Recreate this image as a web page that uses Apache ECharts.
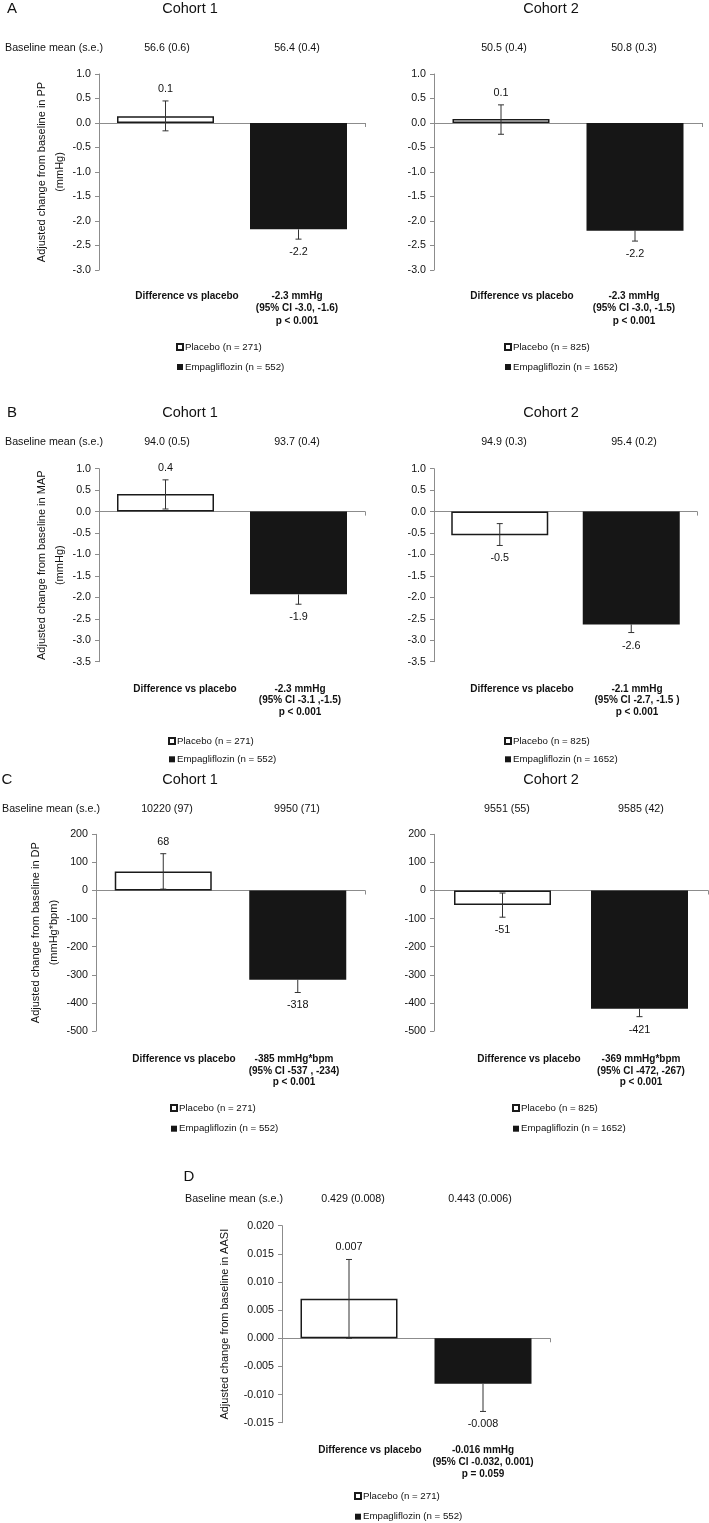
<!DOCTYPE html>
<html><head><meta charset="utf-8">
<script src="https://cdn.jsdelivr.net/npm/echarts@6/dist/echarts.min.js"></script>
<style>html,body{margin:0;padding:0;background:#fff}#c{width:709px;height:1523px}</style>
</head><body><div id="c"></div>
<script>
// ---------------- DATA ----------------
const categories = ['Placebo', 'Empagliflozin'];
const panelIds = ['A1', 'A2', 'B1', 'B2', 'C1', 'C2', 'D'];
const placeboValues = [0.14, 0.08, 0.41, -0.55, 68, -52, 0.007];
const empaValues = [-2.17, -2.20, -1.93, -2.63, -318, -421, -0.0081];
const placeboErrLow = [-0.16, -0.23, 0.06, -0.79, 5, -95, 0.000];
const placeboErrHigh = [0.45, 0.37, 0.74, -0.28, 131, -9, 0.014];
const empaErrLow = [-2.37, -2.41, -2.16, -2.82, -363, -449, -0.013];
const empaErrHigh = [-1.97, -1.99, -1.70, -2.44, -273, -393, -0.0032];
const placeboLabels = ['0.1', '0.1', '0.4', '-0.5', '68', '-51', '0.007'];
const empaLabels = ['-2.2', '-2.2', '-1.9', '-2.6', '-318', '-421', '-0.008'];
const baselinePlacebo = ['56.6 (0.6)', '50.5 (0.4)', '94.0 (0.5)', '94.9 (0.3)', '10220 (97)', '9551 (55)', '0.429 (0.008)'];
const baselineEmpa = ['56.4 (0.4)', '50.8 (0.3)', '93.7 (0.4)', '95.4 (0.2)', '9950 (71)', '9585 (42)', '0.443 (0.006)'];
const diffValue = ['-2.3 mmHg', '-2.3 mmHg', '-2.3 mmHg', '-2.1 mmHg', '-385 mmHg*bpm', '-369 mmHg*bpm', '-0.016 mmHg'];
const diffCI = ['(95% CI -3.0, -1.6)', '(95% CI -3.0, -1.5)', '(95% CI -3.1 ,-1.5)', '(95% CI -2.7, -1.5 )', '(95% CI -537 , -234)', '(95% CI -472, -267)', '(95% CI -0.032, 0.001)'];
const diffP = ['p < 0.001', 'p < 0.001', 'p < 0.001', 'p < 0.001', 'p < 0.001', 'p < 0.001', 'p = 0.059'];
const placeboN = ['Placebo (n = 271)', 'Placebo (n = 825)', 'Placebo (n = 271)', 'Placebo (n = 825)', 'Placebo (n = 271)', 'Placebo (n = 825)', 'Placebo (n = 271)'];
const empaN = ['Empagliflozin (n = 552)', 'Empagliflozin (n = 1652)', 'Empagliflozin (n = 552)', 'Empagliflozin (n = 1652)', 'Empagliflozin (n = 552)', 'Empagliflozin (n = 1652)', 'Empagliflozin (n = 552)'];
const yMin = [-3, -3, -3.5, -3.5, -500, -500, -0.015];
const yMax = [1, 1, 1, 1, 200, 200, 0.02];
const yInterval = [0.5, 0.5, 0.5, 0.5, 100, 100, 0.005];
const yDecimals = [1, 1, 1, 1, 0, 0, 3];
const yTitles = ['Adjusted change from baseline in PP\n(mmHg)', '', 'Adjusted change from baseline in MAP\n(mmHg)', '', 'Adjusted change from baseline in DP\n(mmHg*bpm)', '', 'Adjusted change from baseline in AASI'];
const cohortTitles = ['Cohort 1', 'Cohort 2', 'Cohort 1', 'Cohort 2', 'Cohort 1', 'Cohort 2', ''];
const panelLetters = ['A', 'B', 'C', 'D'];
const baselineTitle = 'Baseline mean (s.e.)';
const diffTitle = 'Difference vs placebo';

// ---------------- LAYOUT ----------------
const FONT = '"Liberation Sans", Arial, sans-serif';
const TXT = '#111111';
const AXIS = '#8c8c8c';
const grids = [
  { left: 99, top: 74, width: 266, height: 196, nameGap: 28 },
  { left: 434, top: 74, width: 268, height: 196, nameGap: 28 },
  { left: 99, top: 468.7, width: 266, height: 193, nameGap: 28 },
  { left: 434, top: 468.7, width: 263, height: 193, nameGap: 28 },
  { left: 96, top: 834.3, width: 269, height: 196.7, nameGap: 25 },
  { left: 434, top: 834.3, width: 274, height: 196.7, nameGap: 25 },
  { left: 282, top: 1225.7, width: 268, height: 197, nameGap: 48 }
];
const letterPos = [[12, 9], [12, 413], [7, 780], [189, 1177]];
const cohortPos = [[190, 9], [551, 9], [190, 413], [551, 413], [190, 780], [551, 780], null];
const baselineTitlePos = [[5, 48], [5, 442], [2, 809], [185, 1199]];
const baselineY = [48, 48, 442, 442, 809, 809, 1199];
const baselineX = [[167, 297], [504, 634], [167, 297], [504, 634], [167, 297], [507, 641], [353, 480]];
const diffY = [296, 296, 689, 689, 1059, 1059, 1450];
const diffLH = [12.5, 12.5, 11.5, 11.5, 11.8, 11.8, 12];
const diffX = [[187, 297], [522, 634], [185, 300], [522, 637], [184, 294], [529, 641], [370, 483]];
const legendPos = [[178, 347, 20], [506, 347, 20], [170, 741, 18.3], [506, 741, 18.3], [172, 1108, 20.7], [514, 1108, 20.7], [356, 1496, 20.7]];

const chart = echarts.init(document.getElementById('c'), null, { renderer: 'canvas' });

function fmt(dec) {
  return function (v) { if (Math.abs(v) < 1e-12) v = 0; return v.toFixed(dec); };
}

const series = [];
panelIds.forEach(function (id, i) {
  series.push({
    type: 'bar', name: placeboN[i], xAxisIndex: i, yAxisIndex: i,
    data: [placeboValues[i], '-'], barWidth: 97, barGap: '-100%',
    itemStyle: { color: '#ffffff', borderColor: '#1a1a1a', borderWidth: 1.5 },
    silent: true, z: 2
  });
  series.push({
    type: 'bar', name: empaN[i], xAxisIndex: i, yAxisIndex: i,
    data: ['-', empaValues[i]], barWidth: 97, barGap: '-100%',
    itemStyle: { color: '#161616', borderColor: '#161616', borderWidth: 0 },
    silent: true, z: 2
  });
  const labels = [placeboLabels[i], empaLabels[i]];
  series.push({
    type: 'custom', name: 'err' + id, xAxisIndex: i, yAxisIndex: i, clip: false, z: 5, silent: true,
    encode: { x: 0, y: 1 },
    data: [[0, placeboValues[i], placeboErrLow[i], placeboErrHigh[i]], [1, empaValues[i], empaErrLow[i], empaErrHigh[i]]],
    renderItem: function (params, api) {
      const idx = params.dataIndex;
      const x = api.value(0), mean = api.value(1), lo = api.value(2), hi = api.value(3);
      const pM = api.coord([x, mean]), pL = api.coord([x, lo]), pH = api.coord([x, hi]);
      const cx = pM[0];
      let yTop = pH[1], yBot = pL[1], capTop = true, capBot = true;
      if (idx === 1) {
        if (mean < 0) { yTop = pM[1]; capTop = false; } else { yBot = pM[1]; capBot = false; }
      }
      const ls = { stroke: '#333', lineWidth: 1 };
      const ch = [{ type: 'line', shape: { x1: cx, y1: yTop, x2: cx, y2: yBot }, style: ls }];
      if (capTop) ch.push({ type: 'line', shape: { x1: cx - 3, y1: yTop, x2: cx + 3, y2: yTop }, style: ls });
      if (capBot) ch.push({ type: 'line', shape: { x1: cx - 3, y1: yBot, x2: cx + 3, y2: yBot }, style: ls });
      const ty = mean >= 0 ? pH[1] - 12 : pL[1] + 13;
      ch.push({ type: 'text', x: cx, y: ty, style: { text: labels[idx], fill: TXT, font: '10.8px ' + FONT, align: 'center', verticalAlign: 'middle' } });
      return { type: 'group', children: ch };
    }
  });
});

const graphics = [];
function txt(x, y, s, opt) {
  opt = opt || {};
  graphics.push({
    type: 'text', x: x, y: y, silent: true,
    style: {
      text: s, fill: TXT, align: opt.align || 'center', verticalAlign: opt.va || 'middle',
      font: (opt.bold ? 'bold ' : '') + (opt.size || 10.7) + 'px ' + FONT,
      lineHeight: opt.lh
    }
  });
}
panelLetters.forEach(function (l, k) { txt(letterPos[k][0], letterPos[k][1], l, { size: 15 }); });
cohortTitles.forEach(function (t, i) { if (t) txt(cohortPos[i][0], cohortPos[i][1], t, { size: 14.5 }); });
baselineTitlePos.forEach(function (p) { txt(p[0], p[1], baselineTitle, { align: 'left', size: 10.7 }); });
panelIds.forEach(function (id, i) {
  txt(baselineX[i][0], baselineY[i], baselinePlacebo[i], { size: 10.7 });
  txt(baselineX[i][1], baselineY[i], baselineEmpa[i], { size: 10.7 });
  txt(diffX[i][0], diffY[i], diffTitle, { bold: true, size: 10 });
  txt(diffX[i][1], diffY[i] - diffLH[i] / 2, diffValue[i] + '\n' + diffCI[i] + '\n' + diffP[i], { bold: true, size: 10, va: 'top', lh: diffLH[i] });
});

const option = {
  animation: false,
  backgroundColor: '#ffffff',
  textStyle: { fontFamily: FONT },
  grid: grids.map(function (g) {
    return { left: g.left, top: g.top, width: g.width, height: g.height, containLabel: false, outerBoundsMode: 'none' };
  }),
  xAxis: panelIds.map(function (id, i) {
    return {
      type: 'category', gridIndex: i, data: categories,
      axisLine: { onZero: true, lineStyle: { color: AXIS, width: 1 } },
      axisTick: { show: true, interval: function (idx) { return idx === 0; }, length: 4, lineStyle: { color: AXIS } },
      axisLabel: { show: false }, splitLine: { show: false }
    };
  }),
  yAxis: panelIds.map(function (id, i) {
    return {
      type: 'value', gridIndex: i, min: yMin[i], max: yMax[i], interval: yInterval[i],
      axisLine: { show: true, lineStyle: { color: AXIS, width: 1 } },
      axisTick: { show: true, length: 4, lineStyle: { color: AXIS } },
      splitLine: { show: false },
      axisLabel: { fontSize: 10.7, color: TXT, margin: 8, fontFamily: FONT, formatter: fmt(yDecimals[i]) },
      name: yTitles[i], nameLocation: 'middle', nameRotate: 90, nameGap: grids[i].nameGap,
      nameTextStyle: { fontSize: 11, color: TXT, lineHeight: 18, fontFamily: FONT }
    };
  }),
  legend: panelIds.map(function (id, i) {
    const lp = legendPos[i];
    return {
      orient: 'vertical', left: lp[0] - 2, top: lp[1] - 6, padding: 0,
      itemWidth: 6, itemHeight: 6, itemGap: lp[2] - 12, icon: 'rect', selectedMode: false,
      data: [placeboN[i], empaN[i]],
      textStyle: { fontSize: 9.7, color: TXT, lineHeight: 12, fontFamily: FONT, padding: [0, 0, 0, -3] }
    };
  }),
  series: series,
  graphic: { elements: graphics }
};
chart.setOption(option);
</script>
</body></html>
